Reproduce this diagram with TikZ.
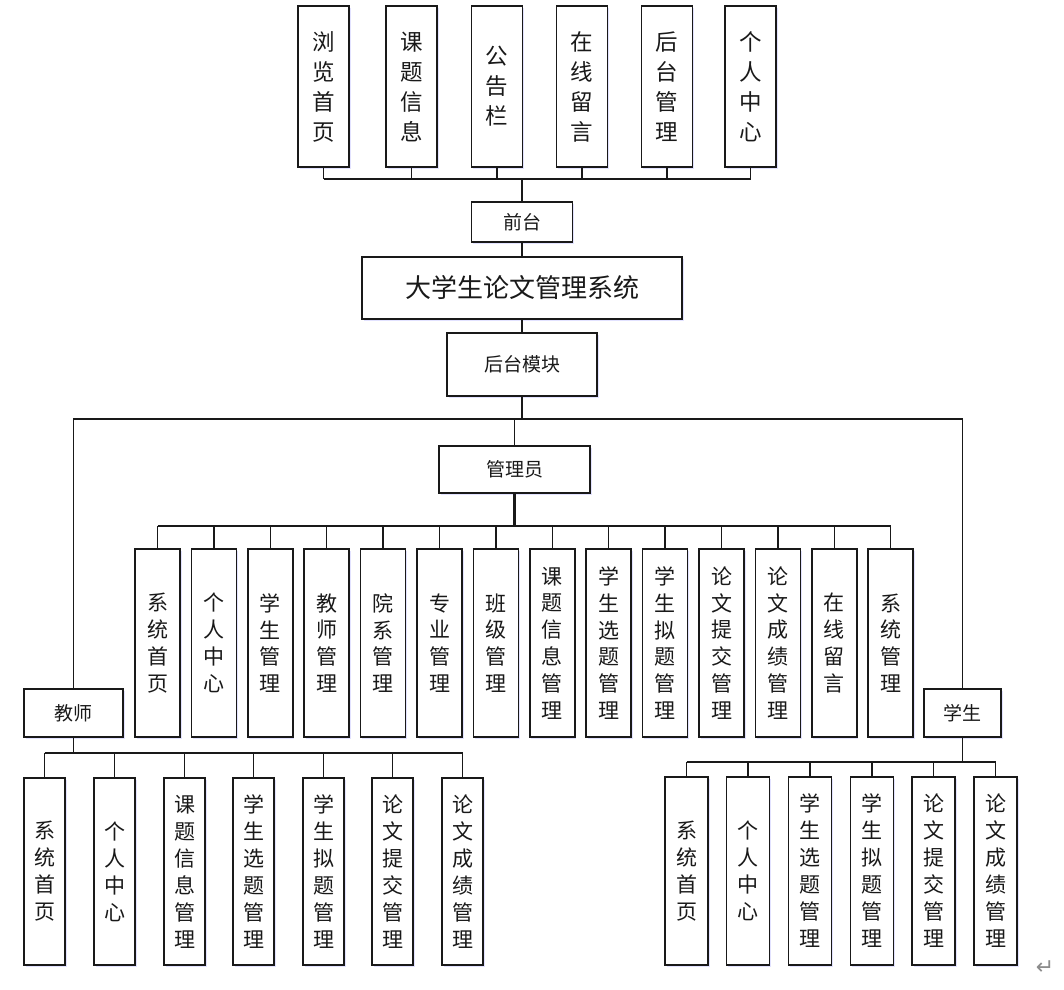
\documentclass[tikz,border=0pt]{standalone}
\usepackage{fontspec}
\newfontfamily\cjk{Noto Sans CJK SC}
\newfontfamily\symfont{DejaVu Sans}
\usetikzlibrary{shadows}
\tikzset{
  box/.style={draw=black!90, line width=1.6pt, fill=white, inner sep=0pt, align=center,
    text=black!90, drop shadow={shadow xshift=1.5pt, shadow yshift=-1.5pt, fill=blue!25, opacity=0.45}},
  topbox/.style={box, minimum width=51pt, minimum height=161pt, font=\cjk\fontsize{22.5}{30}\selectfont},
  hbox/.style={box, font=\cjk\fontsize{19}{22}\selectfont},
  titlebox/.style={box, minimum width=320pt, minimum height=62pt, font=\cjk\fontsize{26}{30}\selectfont},
  admbox/.style={box, minimum width=45pt, minimum height=188pt, font=\cjk\fontsize{21}{26.8}\selectfont},
  teabox/.style={box, minimum width=41pt, minimum height=187pt, font=\cjk\fontsize{21}{27}\selectfont},
  stubox/.style={box, minimum width=43pt, minimum height=188pt, font=\cjk\fontsize{21}{27}\selectfont},
  conn/.style={draw=black!90, line width=1.5pt},
  trunk/.style={draw=black!90, line width=2.6pt}
}
\begin{document}
\begin{tikzpicture}[x=1pt,y=-1pt]
\useasboundingbox[fill=white] (0,0) rectangle (1064,989);

% coordinates of buses
\coordinate (topbus) at (0,179);
\coordinate (hbus) at (0,419);
\coordinate (abus) at (0,526);
\coordinate (tbus) at (0,753);
\coordinate (sbus) at (0,762);

% top row
\node[topbox] (p1) at (323.5,86.5) {浏\\览\\首\\页};
\node[topbox] (p2) at (411.5,86.5) {课\\题\\信\\息};
\node[topbox] (p3) at (497,86.5) {公\\告\\栏};
\node[topbox] (p4) at (582,86.5) {在\\线\\留\\言};
\node[topbox] (p5) at (667,86.5) {后\\台\\管\\理};
\node[topbox] (p6) at (750.5,86.5) {个\\人\\中\\心};

\node[hbox, minimum width=101pt, minimum height=40pt] (qt) at (522,222) {前台};
\node[titlebox] (title) at (522,288) {大学生论文管理系统};
\node[hbox, minimum width=150pt, minimum height=63pt] (ht) at (522,364.5) {后台模块};
\node[hbox, minimum width=151pt, minimum height=47pt] (gly) at (514.5,469.5) {管理员};
\node[hbox, minimum width=99pt, minimum height=48pt] (js) at (73.5,713) {教师};
\node[hbox, minimum width=77pt, minimum height=48pt] (xs) at (962.5,713) {学生};

% admin children
\foreach \lab [count=\i from 0] in {
  系\\统\\首\\页, 个\\人\\中\\心, 学\\生\\管\\理, 教\\师\\管\\理, 院\\系\\管\\理,
  专\\业\\管\\理, 班\\级\\管\\理, 课\\题\\信\\息\\管\\理, 学\\生\\选\\题\\管\\理,
  学\\生\\拟\\题\\管\\理, 论\\文\\提\\交\\管\\理, 论\\文\\成\\绩\\管\\理,
  在\\线\\留\\言, 系\\统\\管\\理}
  { \node[admbox] (a\i) at ({157.5+56.4*\i},643) {\lab}; }

% teacher children
\foreach \lab/\xx [count=\i from 0] in {
  系\\统\\首\\页/44.5, 个\\人\\中\\心/114.5, 课\\题\\信\\息\\管\\理/184.5,
  学\\生\\选\\题\\管\\理/253.5, 学\\生\\拟\\题\\管\\理/323.5,
  论\\文\\提\\交\\管\\理/392.5, 论\\文\\成\\绩\\管\\理/462.5}
  { \node[teabox] (t\i) at (\xx,871.5) {\lab}; }

% student children
\foreach \lab/\xx [count=\i from 0] in {
  系\\统\\首\\页/686.5, 个\\人\\中\\心/748, 学\\生\\选\\题\\管\\理/810,
  学\\生\\拟\\题\\管\\理/872, 论\\文\\提\\交\\管\\理/933.5,
  论\\文\\成\\绩\\管\\理/995.5}
  { \node[stubox] (s\i) at (\xx,871) {\lab}; }

% connectors: top
\foreach \i in {1,...,6} { \draw[conn] (p\i.south) -- (p\i.south |- topbus); }
\draw[conn] (p1.south |- topbus) -- (p6.south |- topbus);
\draw[trunk] (qt.north) -- (qt.north |- topbus);
\draw[conn] (qt.south) -- (title.north);
\draw[conn] (title.south) -- (ht.north);
\draw[conn] (ht.south) -- (ht.south |- hbus);
\draw[conn] (js.north) -- (js.north |- hbus) -- (xs.north |- hbus) -- (xs.north);
\draw[conn] (gly.north) -- (gly.north |- hbus);

% admin bus
\draw[trunk] (gly.south) -- (gly.south |- abus);
\draw[conn] (a0.north |- abus) -- (a13.north |- abus);
\foreach \i in {0,...,13} { \draw[conn] (a\i.north) -- (a\i.north |- abus); }

% teacher bus
\draw[conn] (js.south) -- (js.south |- tbus);
\draw[conn] (t0.north |- tbus) -- (t6.north |- tbus);
\foreach \i in {0,...,6} { \draw[conn] (t\i.north) -- (t\i.north |- tbus); }

% student bus
\draw[conn] (xs.south) -- (xs.south |- sbus);
\draw[conn] (s0.north |- sbus) -- (s5.north |- sbus);
\foreach \i in {0,...,5} { \draw[conn] (s\i.north) -- (s\i.north |- sbus); }

\node[font=\symfont\fontsize{22}{22}\selectfont, text=black!45, inner sep=0pt] (ret) at (1045,968) {↵};
\end{tikzpicture}
\end{document}
